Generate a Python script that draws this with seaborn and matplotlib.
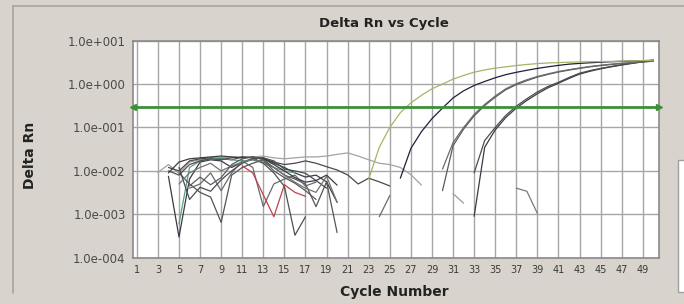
import numpy as np
import pandas as pd
import matplotlib
matplotlib.use("Agg")
import matplotlib.pyplot as plt
from matplotlib.ticker import FixedLocator, FuncFormatter, NullLocator
from matplotlib.lines import Line2D
from matplotlib.patches import Rectangle
import seaborn as sns

# ---------------- data ----------------
threshold = 0.3

# baseline / noise wells: (start cycle, values)
base_01_start, base_01 = 3, [0.0092, 0.014, 0.0088, 0.016, 0.018, 0.019, 0.020, 0.021, 0.020, 0.021, 0.022, 0.020, 0.019,
                             0.020, 0.021, 0.021, 0.022, 0.024, 0.026, 0.022, 0.018, 0.015, 0.014, 0.012, 0.0082, 0.0047]
base_02_start, base_02 = 4, [0.012, 0.010, 0.017, 0.019, 0.020, 0.019, 0.018, 0.021, 0.020, 0.019, 0.016, 0.014, 0.015,
                             0.017, 0.015, 0.0125, 0.0105, 0.0081, 0.0050, 0.0068, 0.0056, 0.0045]
base_03_start, base_03 = 4, [0.0075, 0.0003, 0.0065, 0.016, 0.018, 0.017, 0.012, 0.016, 0.019, 0.020, 0.015, 0.012, 0.009,
                             0.0072, 0.0080, 0.0056, 0.0019]
base_04_start, base_04 = 5, [0.0006, 0.012, 0.017, 0.019, 0.020, 0.018, 0.017, 0.018, 0.015, 0.012, 0.010, 0.009]
base_05_start, base_05 = 5, [0.009, 0.005, 0.0032, 0.0025, 0.00065, 0.008, 0.012, 0.015, 0.018, 0.012, 0.008, 0.0065,
                             0.005, 0.0015, 0.0056, 0.00038]
base_06_start, base_06 = 11, [0.013, 0.009, 0.0028, 0.00088, 0.0048, 0.0032, 0.0026]
base_07_start, base_07 = 4, [0.010, 0.008, 0.014, 0.017, 0.019, 0.018, 0.020, 0.021, 0.020, 0.015, 0.009, 0.0044,
                             0.00033, 0.00088]
base_08_start, base_08 = 6, [0.004, 0.005, 0.009, 0.0035, 0.009, 0.017, 0.012, 0.0015, 0.005, 0.0065, 0.008, 0.0045, 0.0055]
base_09_start, base_09 = 5, [0.012, 0.0022, 0.0042, 0.0034, 0.0062, 0.010, 0.015, 0.019, 0.020, 0.017, 0.011, 0.010,
                             0.0088, 0.006, 0.0040]
base_10_start, base_10 = 4, [0.009, 0.016, 0.019, 0.020, 0.021, 0.022, 0.021, 0.020, 0.021, 0.019, 0.014, 0.010, 0.007,
                             0.0055, 0.006, 0.008, 0.0047]
base_11_start, base_11 = 5, [0.005, 0.009, 0.012, 0.015, 0.010, 0.013, 0.016, 0.018, 0.016, 0.012, 0.008, 0.0055, 0.004,
                             0.0032, 0.0075, 0.0019]
base_12_start, base_12 = 6, [0.0045, 0.0072, 0.0048, 0.007, 0.014, 0.019, 0.021, 0.018, 0.010, 0.007, 0.0052, 0.0035, 0.0022]

frag_1_start, frag_1 = 24, [0.00088, 0.0027]
frag_2_start, frag_2 = 31, [0.0030, 0.0018]
frag_3_start, frag_3 = 37, [0.0040, 0.0034, 0.00105]

# amplifying wells
amp_olive_start, amp_olive = 23, [0.0065, 0.035, 0.10, 0.22, 0.37, 0.55, 0.78, 1.00, 1.30, 1.58, 1.88, 2.12, 2.33,
                                  2.50, 2.68, 2.83, 2.97, 3.07, 3.13, 3.19, 3.24, 3.28, 3.30, 3.34, 3.38, 3.43, 3.48, 3.55]
amp_navy_start, amp_navy = 26, [0.0068, 0.033, 0.08, 0.16, 0.28, 0.48, 0.70, 0.93, 1.15, 1.40, 1.65, 1.87, 2.08, 2.30,
                                2.50, 2.70, 2.88, 3.00, 3.10, 3.20, 3.28, 3.34, 3.40, 3.45, 3.55]
amp_g1a_start, amp_g1a = 30, [0.0035, 0.038, 0.092, 0.185, 0.32, 0.50, 0.74, 0.97, 1.20, 1.45, 1.67, 1.90, 2.10, 2.30,
                              2.50, 2.67, 2.83, 2.97, 3.10, 3.23, 3.36]
amp_g1b_start, amp_g1b = 30, [0.011, 0.045, 0.10, 0.20, 0.34, 0.53, 0.78, 1.02, 1.26, 1.50, 1.72, 1.95, 2.15, 2.35,
                              2.55, 2.72, 2.88, 3.02, 3.15, 3.28, 3.40]
amp_g2a_start, amp_g2a = 33, [0.0009, 0.035, 0.088, 0.17, 0.28, 0.42, 0.60, 0.82, 1.05, 1.35, 1.70, 1.98, 2.25, 2.50,
                              2.75, 3.00, 3.25, 3.50]
amp_g2b_start, amp_g2b = 33, [0.009, 0.05, 0.10, 0.19, 0.31, 0.46, 0.66, 0.88, 1.10, 1.42, 1.78, 2.05, 2.30, 2.55,
                              2.80, 3.05, 3.30, 3.55]

x_tick_labels = [str(c) for c in range(1, 50, 2)]
y_decades = [1e-4, 1e-3, 1e-2, 1e-1, 1e0, 1e1]

wells = {
    "base_01": (base_01_start, base_01, "#a3a3a3"),
    "base_02": (base_02_start, base_02, "#4a4a4a"),
    "base_03": (base_03_start, base_03, "#3a3a45"),
    "base_04": (base_04_start, base_04, "#5a9e80"),
    "base_05": (base_05_start, base_05, "#555555"),
    "base_07": (base_07_start, base_07, "#505050"),
    "base_08": (base_08_start, base_08, "#6a6a6a"),
    "base_09": (base_09_start, base_09, "#474c57"),
    "base_10": (base_10_start, base_10, "#3c3c3c"),
    "base_11": (base_11_start, base_11, "#747474"),
    "base_12": (base_12_start, base_12, "#5c5c5c"),
    "base_06": (base_06_start, base_06, "#c2404c"),
    "frag_1": (frag_1_start, frag_1, "#6a6a6a"),
    "frag_2": (frag_2_start, frag_2, "#9a9a9a"),
    "frag_3": (frag_3_start, frag_3, "#7a7a7a"),
    "amp_g2a": (amp_g2a_start, amp_g2a, "#3a3a48"),
    "amp_g2b": (amp_g2b_start, amp_g2b, "#4c4c4c"),
    "amp_g1a": (amp_g1a_start, amp_g1a, "#5a5a5a"),
    "amp_g1b": (amp_g1b_start, amp_g1b, "#6c6c6c"),
    "amp_navy": (amp_navy_start, amp_navy, "#1f1f3a"),
    "amp_olive": (amp_olive_start, amp_olive, "#a9b266"),
}

rows = []
for name, (start, vals, _) in wells.items():
    for i, v in enumerate(vals):
        rows.append({"well": name, "cycle": start + i, "delta_rn": v})
df = pd.DataFrame(rows)
palette = {name: col for name, (_, _, col) in wells.items()}

# ---------------- figure ----------------
sns.set_theme(style="white")
plt.rcParams["font.family"] = ["DejaVu Sans"]

BG = "#d8d4cd"
fig = plt.figure(figsize=(6.84, 3.04), dpi=100, facecolor=BG)
ax = fig.add_axes([132.6 / 684, 1 - 257.7 / 304, (658.6 - 132.6) / 684, (257.7 - 40.7) / 304])
ax.set_facecolor("white")

sns.lineplot(data=df, x="cycle", y="delta_rn", hue="well", hue_order=list(wells.keys()),
             palette=palette, estimator=None, legend=False, linewidth=0.9, ax=ax, sort=True)

ax.set_yscale("log")
ax.set_ylim(1e-4, 10)
ax.set_xlim(0.6, 50.5)

# threshold line with arrow ends
xl = ax.get_xlim()
ax.axhline(threshold, color="#3f8f3a", lw=2.0, zorder=5)
ax.plot([xl[0]], [threshold], marker="<", color="#3f8f3a", ms=5, clip_on=False, zorder=6)
ax.plot([xl[1]], [threshold], marker=">", color="#3f8f3a", ms=5, clip_on=False, zorder=6)

ax.xaxis.set_major_locator(FixedLocator(list(range(1, 50, 2))))
ax.set_xticklabels(x_tick_labels)
ax.yaxis.set_major_locator(FixedLocator(y_decades))
ax.yaxis.set_minor_locator(NullLocator())
ax.yaxis.set_major_formatter(FuncFormatter(lambda v, p: "1.0e{:+04d}".format(int(round(np.log10(v))))))

ax.grid(True, which="major", color="#a6a6a6", lw=1.0)
ax.set_axisbelow(True)
ax.tick_params(axis="both", length=0)
ax.tick_params(axis="x", labelsize=7, colors="#3a3a3a", pad=5)
ax.tick_params(axis="y", labelsize=8.5, colors="#4a4a4a", pad=5)
for s in ax.spines.values():
    s.set_color("#8a8a8a")
    s.set_linewidth(1.2)

ax.set_xlabel("Cycle Number", fontsize=10, fontweight="bold", color="#222222")
ax.xaxis.set_label_coords(0.497, -0.126)
ax.set_ylabel("Delta Rn", fontsize=10, fontweight="bold", color="#222222")
ax.yaxis.set_label_coords(-0.182, 0.47)
fig.text(384 / 684, 1 - 23.5 / 304, "Delta Rn vs Cycle", ha="center", va="center",
         fontsize=9.5, fontweight="bold", color="#222222")

# outer window frame decorations
fig.add_artist(Line2D([13 / 684, 13 / 684], [1 - 293 / 304, 1 - 6 / 304], color="#a8a49e", lw=1.2))
fig.add_artist(Line2D([13 / 684, 1.0], [1 - 6 / 304, 1 - 6 / 304], color="#a8a49e", lw=1.2))
fig.add_artist(Rectangle((678 / 684, 1 - 292 / 304), 0.02, (292 - 160) / 304,
                         facecolor="white", edgecolor="#a0a0a0", lw=1.0))

fig.savefig("out.png", dpi=100, facecolor=BG)
